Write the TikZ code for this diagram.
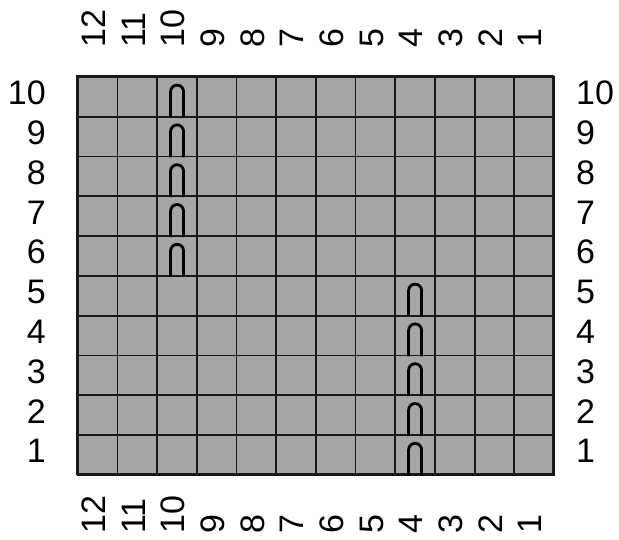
\documentclass[tikz,border=0pt]{standalone}
\usepackage{fontspec}
\setmainfont{Liberation Sans}
\begin{document}
\begin{tikzpicture}[x=1pt,y=-1pt,
  lbl/.style={inner sep=0pt,font=\fontsize{34}{34}\selectfont},
  cell/.style={draw=black!90,line width=1.8pt,fill=black!35},
  loopsym/.style={draw=black,line width=2.8pt}]
\useasboundingbox (0,0) rectangle (619,539);
\def\gx{77}\def\gy{76}\def\cw{39.67}\def\rh{39.8}
% cells
\foreach \c in {0,...,11}{
  \foreach \r in {0,...,9}{
    \node[cell,minimum width=\cw pt,minimum height=\rh pt,anchor=north west,inner sep=0pt]
      (c\c r\r) at ({\gx+\c*\cw},{\gy+\r*\rh}) {};
  }
}
\draw[line width=1.8pt,black!90] (\gx,\gy) rectangle ({\gx+12*\cw},{\gy+10*\rh});
% column labels (12 ... 1 left to right)
\foreach \c in {0,...,11}{
  \pgfmathtruncatemacro{\n}{12-\c}
  \node[lbl,rotate=90,anchor=west] (t\c) at ({\gx+(\c+0.5)*\cw-3},48) {\n};
  \node[lbl,rotate=90,anchor=west] (b\c) at ({\gx+(\c+0.5)*\cw-3},534) {\n};
}
% row labels (10 top ... 1 bottom)
\foreach \r in {0,...,9}{
  \pgfmathtruncatemacro{\n}{10-\r}
  \node[lbl,anchor=east] (l\r) at (46,{\gy+(\r+0.5)*\rh-3}) {\n};
  \node[lbl,anchor=west] (rr\r) at (576,{\gy+(\r+0.5)*\rh-3}) {\n};
}
% loop symbols
\foreach \r in {0,...,4}{
  \draw[loopsym] ([xshift=-6.5pt]c2r\r.south) -- ++(0,-26) arc[start angle=180,end angle=360,radius=6.5] -- ([xshift=6.5pt]c2r\r.south);
}
\foreach \r in {5,...,9}{
  \draw[loopsym] ([xshift=-6.5pt]c8r\r.south) -- ++(0,-26) arc[start angle=180,end angle=360,radius=6.5] -- ([xshift=6.5pt]c8r\r.south);
}
\end{tikzpicture}
\end{document}
